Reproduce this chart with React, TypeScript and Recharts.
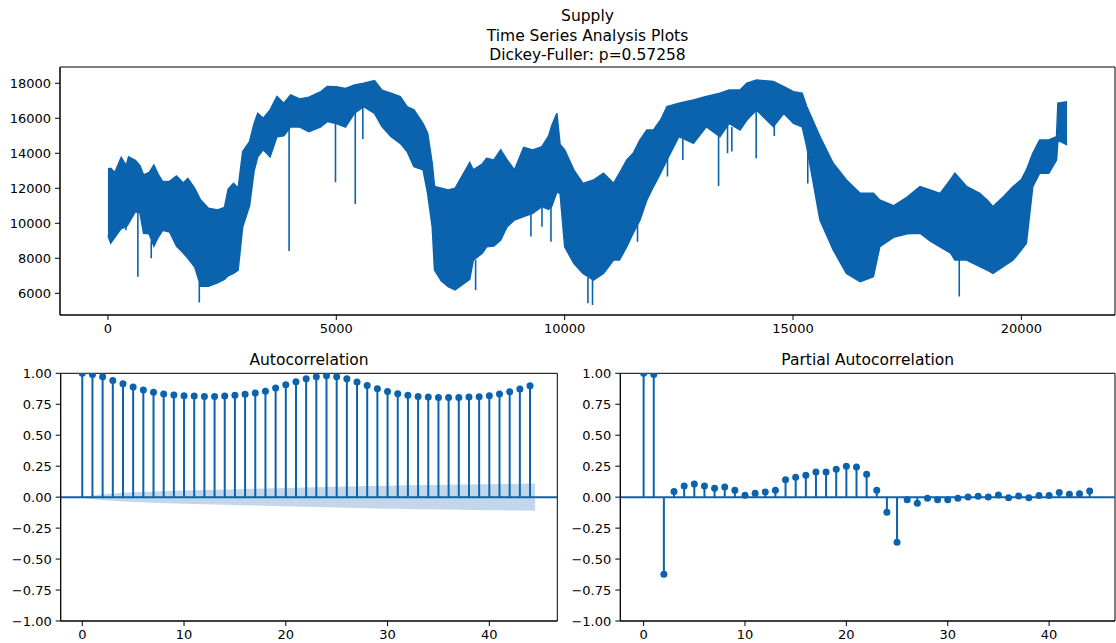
import React from 'react';
import { ComposedChart, Area, Line, XAxis, YAxis, ReferenceLine, ReferenceArea } from 'recharts';

const C = '#0b63ad';
const FONT = '"DejaVu Sans", sans-serif';

// ---------- Top panel: Supply series (low/high envelope of the dense line) ----------
const envIdx = [
  0, 60, 150, 290, 400, 452, 600, 700, 780, 900,
  1006, 1100, 1200, 1350, 1500, 1650, 1750, 1900, 2030, 2200,
  2400, 2550, 2632, 2750, 2850, 2950, 3100, 3200, 3280, 3400,
  3550, 3700, 3850, 4000, 4200, 4400, 4650, 4800, 5000, 5200,
  5400, 5600, 5836, 6000, 6200, 6400, 6550, 6700, 6900, 7000,
  7100, 7150, 7300, 7450, 7600, 7921, 8000, 8200, 8290, 8450,
  8600, 8740, 8900, 9102, 9300, 9500, 9650, 9722, 9830, 9900,
  10000, 10200, 10400, 10630, 10850, 11070, 11200, 11360, 11500, 11650,
  11800, 11945, 12100, 12240, 12500, 12820, 13100, 13400, 13600, 13840,
  13990, 14200, 14570, 14800, 15010, 15200, 15300, 15590, 15880, 16170,
  16470, 16760, 16900, 17200, 17500, 17780, 18000, 18220, 18450, 18545,
  18800, 19090, 19250, 19380, 19600, 19820, 20000, 20110, 20250, 20400,
  20600, 20770, 20800, 21000,
];
const envLow = [
  9300, 8860, 9200, 9700, 9800, 10000, 10660, 10600, 9430, 9400,
  8700, 9200, 9600, 9500, 8700, 8300, 8000, 7500, 6400, 6400,
  6600, 6800, 7000, 7140, 7330, 9800, 11000, 13000, 13800, 14200,
  13800, 14950, 15000, 15520, 15500, 15240, 15500, 15810, 15700, 15500,
  16300, 16670, 16280, 15520, 14950, 14570, 14100, 13240, 13050, 11700,
  9800, 7330, 6700, 6380, 6190, 6800, 7900, 8300, 8660, 8700,
  9050, 9800, 10190, 10380, 10570, 10950, 10800, 11000, 11800, 11700,
  8660, 7710, 7140, 6760, 7140, 7900, 7900, 8660, 9430, 10190,
  11330, 12100, 12860, 13620, 14950, 14570, 15520, 14950, 15710, 15330,
  15900, 16480, 15520, 16280, 15710, 15520, 14380, 10190, 8480, 7140,
  6660, 6950, 8660, 9200, 9400, 9430, 9000, 8660, 8300, 7900,
  7900, 7520, 7330, 7140, 7520, 7900, 8480, 8860, 12100, 12860,
  12860, 13620, 14760, 14480,
];
const envHigh = [
  13100, 13140, 12900, 13770, 13300, 13800, 13600, 13300, 12760, 12900,
  13330, 12800, 12380, 12400, 12700, 12300, 12570, 12000, 11330, 10860,
  10760, 10900, 11950, 12280, 12000, 14100, 14670, 15700, 16290, 16000,
  16480, 17240, 16860, 17330, 17100, 17200, 17500, 17810, 17800, 17700,
  17900, 18000, 18150, 17600, 17430, 17240, 16670, 16480, 15700, 15140,
  13430, 12100, 12000, 11900, 12000, 13470, 13050, 13400, 13710, 13620,
  14190, 13620, 13050, 14340, 14190, 14380, 15000, 15620, 16290, 14500,
  14190, 13050, 12280, 12470, 12860, 12280, 12860, 13620, 14000, 14760,
  15330, 15330, 15900, 16670, 16860, 17050, 17240, 17430, 17620, 17620,
  18000, 18190, 18100, 17810, 17520, 17430, 16670, 14950, 13430, 12470,
  11710, 11710, 11330, 11000, 11500, 12100, 11900, 11710, 12500, 12860,
  12100, 11710, 11330, 10950, 11500, 12100, 12500, 13050, 14000, 14760,
  14760, 14950, 16860, 16950,
];

// narrow downward spikes (index, top, bottom)
const spikeIdx = [394, 655, 948, 2000, 3966, 4982, 5415, 5580, 8050, 9262, 9503, 9700, 10509, 10610, 11595, 12251, 12587, 13370, 13566, 13660, 14193, 14590, 15323, 18640];
const spikeTop = [9800, 10600, 9000, 6600, 15400, 15700, 16300, 16600, 7900, 10600, 10900, 11000, 6900, 6800, 9900, 13700, 14800, 15000, 15600, 15500, 16400, 15600, 14000, 7900];
const spikeBottom = [9600, 6950, 8000, 5470, 8420, 12340, 11100, 14820, 6190, 9240, 9800, 8950, 5430, 5330, 8950, 12670, 13620, 12130, 14000, 14100, 13710, 14990, 12280, 5810];

const topTicksX = [0, 5000, 10000, 15000, 20000];
const topTicksY = [6000, 8000, 10000, 12000, 14000, 16000, 18000];

// ---------- Bottom panels ----------
const lags = [0, 1, 2, 3, 4, 5, 6, 7, 8, 9, 10, 11, 12, 13, 14, 15, 16, 17, 18, 19, 20, 21, 22, 23, 24, 25, 26, 27, 28, 29, 30, 31, 32, 33, 34, 35, 36, 37, 38, 39, 40, 41, 42, 43, 44];
const acfValues = [1.0, 0.991, 0.972, 0.942, 0.916, 0.889, 0.865, 0.846, 0.832, 0.824, 0.819, 0.816, 0.813, 0.813, 0.816, 0.822, 0.83, 0.84, 0.856, 0.881, 0.908, 0.932, 0.956, 0.972, 0.98, 0.972, 0.956, 0.929, 0.902, 0.875, 0.854, 0.835, 0.822, 0.813, 0.808, 0.805, 0.805, 0.805, 0.808, 0.81, 0.819, 0.832, 0.851, 0.873, 0.899];
const acfBandHalf = [0, 0.014, 0.023, 0.03, 0.035, 0.039, 0.042, 0.046, 0.048, 0.051, 0.053, 0.055, 0.058, 0.06, 0.062, 0.064, 0.066, 0.068, 0.07, 0.072, 0.074, 0.076, 0.078, 0.08, 0.082, 0.084, 0.086, 0.088, 0.09, 0.091, 0.093, 0.094, 0.096, 0.097, 0.098, 0.099, 0.1, 0.102, 0.103, 0.104, 0.105, 0.106, 0.107, 0.108, 0.11];
const pacfValues = [1.0, 0.99, -0.622, 0.045, 0.09, 0.106, 0.09, 0.072, 0.082, 0.055, 0.015, 0.031, 0.042, 0.055, 0.141, 0.16, 0.176, 0.203, 0.203, 0.225, 0.249, 0.244, 0.184, 0.055, -0.122, -0.364, -0.02, -0.049, -0.009, -0.02, -0.02, -0.009, 0.002, 0.007, 0.002, 0.018, -0.004, 0.01, -0.004, 0.013, 0.013, 0.037, 0.023, 0.028, 0.05];
const corrTicksY = [-1, -0.75, -0.5, -0.25, 0, 0.25, 0.5, 0.75, 1];
const lagTicks = [0, 10, 20, 30, 40];

// ---------- derived tables ----------
const envData = envIdx.map((x, i) => ({ x, range: [envLow[i], envHigh[i]] }));
const spikeData = spikeIdx.flatMap((x, i) => [
  { x, v: spikeTop[i] },
  { x, v: spikeBottom[i] },
  { x, v: null },
]);
const stems = (vals: number[]) =>
  lags.flatMap((x, i) => [
    { x, v: 0 },
    { x, v: vals[i] },
    { x, v: null },
  ]);
const points = (vals: number[]) => lags.map((x, i) => ({ x, v: vals[i] }));
const acfBandData = lags.map((l, i) => ({
  x: i === 0 ? l - 0.5 : i === lags.length - 1 ? l + 0.5 : l,
  range: [-acfBandHalf[i], acfBandHalf[i]],
}));

const tickStyle = { fill: '#000', fontSize: 13, fontFamily: FONT };
const fmtCorr = (v: number) => v.toFixed(2).replace('-', '\u2212');

function CorrChart({ vals, band, domainX, yWidth, rightMargin, width }: any) {
  return (
    <ComposedChart
      width={width}
      height={303}
      margin={{ top: 33.3, right: rightMargin, bottom: 0, left: 0 }}
    >
      <XAxis
        type="number"
        dataKey="x"
        domain={domainX}
        allowDataOverflow
        ticks={lagTicks}
        tick={tickStyle}
        tickSize={5}
        tickMargin={4}
        height={22}
        axisLine={{ stroke: '#000', strokeWidth: 1 }}
        tickLine={{ stroke: '#000', strokeWidth: 1 }}
      />
      <YAxis
        type="number"
        domain={[-1, 1]}
        allowDataOverflow
        ticks={corrTicksY}
        tickFormatter={fmtCorr}
        tick={tickStyle}
        tickSize={5}
        tickMargin={4}
        width={yWidth}
        axisLine={{ stroke: '#000', strokeWidth: 1 }}
        tickLine={{ stroke: '#000', strokeWidth: 1 }}
      />
      <ReferenceArea x1={domainX[0]} x2={domainX[1]} y1={-1} y2={1} fill="none" stroke="#000" strokeWidth={1} ifOverflow="visible" />
      {band ? (
        <Area
          data={band}
          dataKey="range"
          type="linear"
          stroke="none"
          fill={C}
          fillOpacity={0.25}
          isAnimationActive={false}
        />
      ) : null}
      <Line
        data={stems(vals)}
        dataKey="v"
        type="linear"
        stroke={C}
        strokeWidth={2}
        dot={false}
        connectNulls={false}
        isAnimationActive={false}
      />
      <ReferenceLine y={0} stroke={C} strokeWidth={2} ifOverflow="visible" />
      <Line
        data={points(vals)}
        dataKey="v"
        type="linear"
        stroke="none"
        dot={{ r: 3.5, fill: C, stroke: 'none' }}
        activeDot={false}
        isAnimationActive={false}
      />
    </ComposedChart>
  );
}

export default function App() {
  const topDomainX = [-1050, 22050];
  const topDomainY = [4760, 18930];
  return (
    <div style={{ position: 'absolute', left: 0, top: 0, width: 1116, height: 643, background: '#fff', fontFamily: FONT }}>
      <div style={{ position: 'absolute', left: 0, top: 0 }}>
        <ComposedChart width={1116} height={345} margin={{ top: 67, right: 1, bottom: 0, left: 0 }}>
          <XAxis
            type="number"
            dataKey="x"
            domain={topDomainX}
            allowDataOverflow
            ticks={topTicksX}
            tick={tickStyle}
            tickSize={5}
            tickMargin={4}
            height={30}
            axisLine={{ stroke: '#000', strokeWidth: 1 }}
            tickLine={{ stroke: '#000', strokeWidth: 1 }}
          />
          <YAxis
            type="number"
            domain={topDomainY}
            allowDataOverflow
            ticks={topTicksY}
            tick={tickStyle}
            tickSize={5}
            tickMargin={4}
            width={60}
            axisLine={{ stroke: '#000', strokeWidth: 1 }}
            tickLine={{ stroke: '#000', strokeWidth: 1 }}
          />
          <ReferenceArea x1={topDomainX[0]} x2={topDomainX[1]} y1={topDomainY[0]} y2={topDomainY[1]} fill="none" stroke="#000" strokeWidth={1} ifOverflow="visible" />
          <Area
            data={envData}
            dataKey="range"
            type="linear"
            stroke={C}
            strokeWidth={1.5}
            fill={C}
            fillOpacity={1}
            isAnimationActive={false}
          />
          <Line
            data={spikeData}
            dataKey="v"
            type="linear"
            stroke={C}
            strokeWidth={1.6}
            dot={false}
            connectNulls={false}
            isAnimationActive={false}
          />
        </ComposedChart>
      </div>
      <div style={{ position: 'absolute', left: 0, top: 340 }}>
        <CorrChart vals={acfValues} band={acfBandData} domainX={[-2.12, 46.68]} yWidth={60.7} rightMargin={2.7} width={560} />
      </div>
      <div style={{ position: 'absolute', left: 560, top: 340 }}>
        <CorrChart vals={pacfValues} band={null} domainX={[-2.3, 46.5]} yWidth={60.3} rightMargin={1} width={556} />
      </div>
      <svg width={1116} height={643} style={{ position: 'absolute', left: 0, top: 0, pointerEvents: 'none' }}>
        <g fontFamily={FONT} fontSize={15.5} fill="#000" textAnchor="middle">
          <text x={587.5} y={21}>Supply</text>
          <text x={587.5} y={40.5}>Time Series Analysis Plots</text>
          <text x={587.5} y={60}>Dickey-Fuller: p=0.57258</text>
          <text x={309} y={365}>Autocorrelation</text>
          <text x={867.7} y={365}>Partial Autocorrelation</text>
        </g>
      </svg>
    </div>
  );
}
